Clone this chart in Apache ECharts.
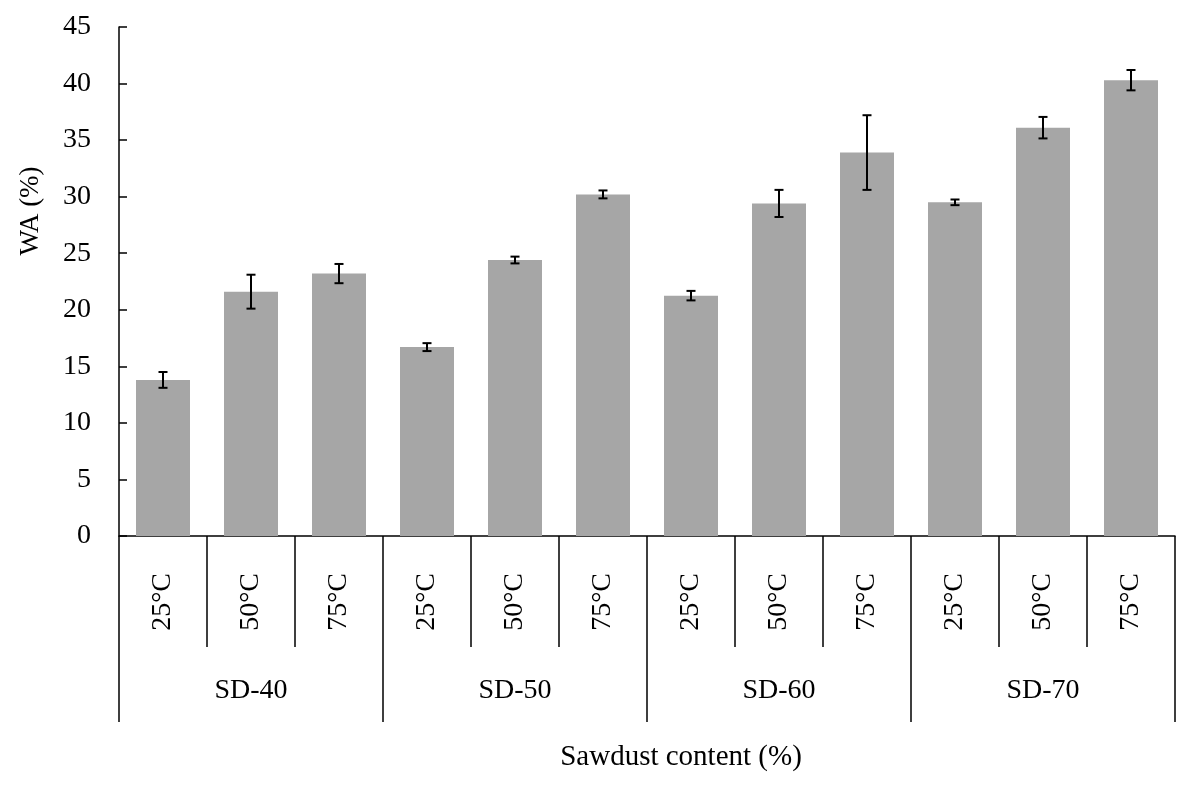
<!DOCTYPE html>
<html>
<head>
<meta charset="utf-8">
<script src="https://cdn.jsdelivr.net/npm/echarts@6/dist/echarts.min.js"></script>
<style>
  html, body { margin: 0; padding: 0; background: #fff; }
  #chart { width: 1200px; height: 793px; }
</style>
</head>
<body>
<div id="chart"></div>
<script>
// data
const temps = ['25°C', '50°C', '75°C', '25°C', '50°C', '75°C', '25°C', '50°C', '75°C', '25°C', '50°C', '75°C'];
const groups = ['SD-40', 'SD-50', 'SD-60', 'SD-70'];
const waMean = [13.8, 21.6, 23.2, 16.7, 24.4, 30.2, 21.25, 29.4, 33.9, 29.5, 36.1, 40.3];
const waErr = [0.7, 1.5, 0.85, 0.35, 0.3, 0.35, 0.42, 1.2, 3.3, 0.25, 0.95, 0.9];
const yTicks = { min: 0, max: 45, interval: 5 };

const font = 'Liberation Serif, Times New Roman, serif';
const chart = echarts.init(document.getElementById('chart'));

// error bar ranges [index, low, high]
const errData = waMean.map((m, i) => [i, m - waErr[i], m + waErr[i]]);

chart.setOption({
  animation: false,
  backgroundColor: '#fff',
  grid: { left: 119, right: 25, top: 27, bottom: 257 },
  xAxis: [
    {
      type: 'category',
      data: temps,
      position: 'bottom',
      axisLine: { lineStyle: { color: '#000', width: 1.5 } },
      axisTick: { show: true, interval: 0, length: 111, lineStyle: { color: '#000', width: 1.5 } },
      axisLabel: { interval: 0, rotate: 90, margin: 37, color: '#000', fontFamily: font, fontSize: 28 }
    },
    {
      type: 'category',
      data: groups,
      position: 'bottom',
      offset: 111,
      axisLine: { show: false },
      axisTick: { show: true, interval: 0, length: 75, lineStyle: { color: '#000', width: 1.5 } },
      axisLabel: { interval: 0, margin: 30, color: '#000', fontFamily: font, fontSize: 28 }
    }
  ],
  yAxis: {
    type: 'value',
    min: yTicks.min, max: yTicks.max, interval: yTicks.interval,
    axisLine: { show: true, lineStyle: { color: '#000', width: 1.5 } },
    axisTick: { show: true, inside: true, length: 8, lineStyle: { color: '#000', width: 1.5 } },
    splitLine: { show: false },
    axisLabel: { margin: 28, color: '#000', fontFamily: font, fontSize: 28 }
  },
  graphic: [
    {
      type: 'text', x: 31, y: 211, rotation: Math.PI / 2,
      style: { text: 'WA (%)', fontFamily: font, fontSize: 27, fill: '#000', align: 'center', verticalAlign: 'middle' }
    },
    {
      type: 'text', x: 681, y: 757,
      style: { text: 'Sawdust content (%)', fontFamily: font, fontSize: 29, fill: '#000', align: 'center', verticalAlign: 'middle' }
    }
  ],
  series: [
    {
      type: 'bar',
      data: waMean,
      barWidth: 54,
      itemStyle: { color: '#a6a6a6' }
    },
    {
      type: 'custom',
      data: errData,
      encode: { x: 0, y: [1, 2] },
      z: 10,
      renderItem: function (params, api) {
        const x = api.value(0);
        const lo = api.coord([x, api.value(1)]);
        const hi = api.coord([x, api.value(2)]);
        const half = 4.5;
        const style = { stroke: '#000', lineWidth: 2 };
        return {
          type: 'group',
          children: [
            { type: 'line', shape: { x1: hi[0], y1: hi[1], x2: lo[0], y2: lo[1] }, style: style },
            { type: 'line', shape: { x1: hi[0] - half, y1: hi[1], x2: hi[0] + half, y2: hi[1] }, style: style },
            { type: 'line', shape: { x1: lo[0] - half, y1: lo[1], x2: lo[0] + half, y2: lo[1] }, style: style }
          ]
        };
      }
    }
  ]
});
</script>
</body>
</html>
